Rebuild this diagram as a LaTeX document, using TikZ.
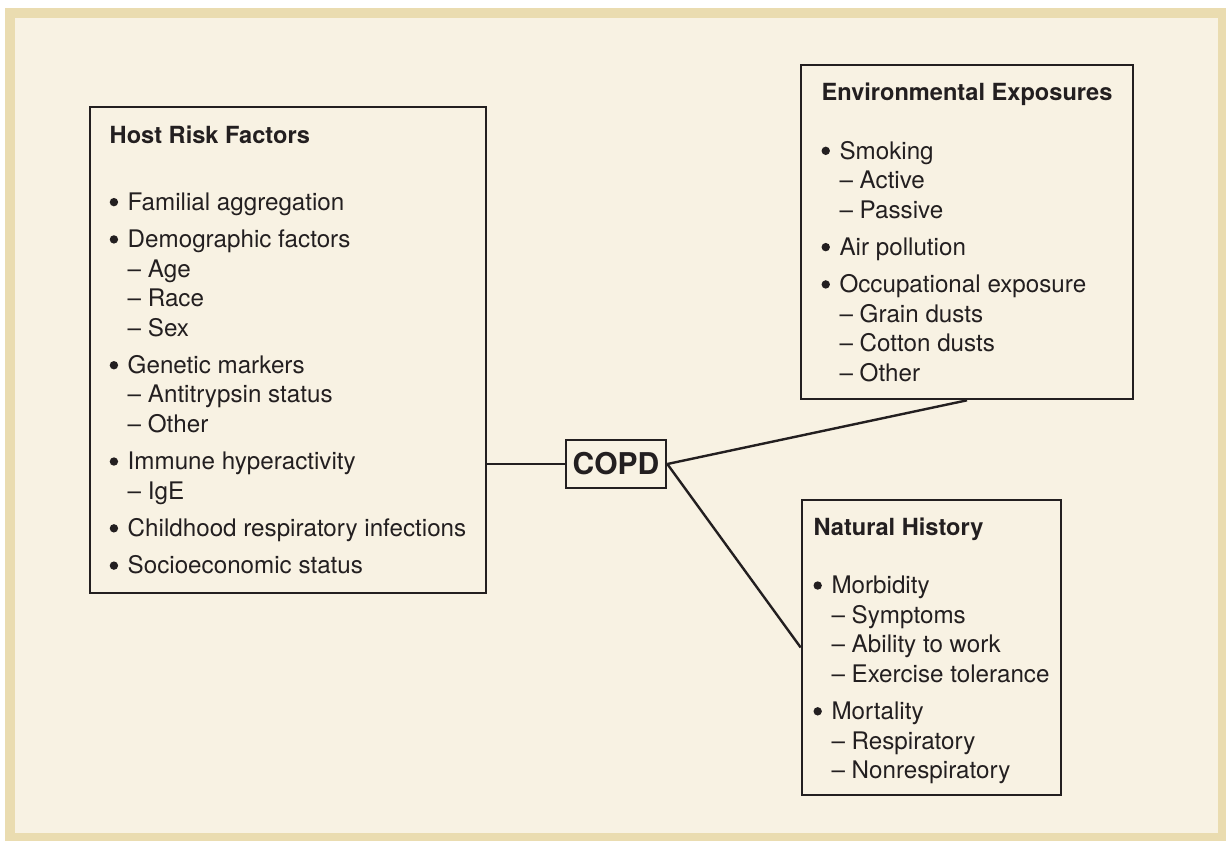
\documentclass[tikz,border=0pt]{standalone}
\usepackage{fontspec}
\setmainfont{TeX Gyre Heros}
\definecolor{copdframe}{HTML}{EADCB0}
\definecolor{copdpanel}{HTML}{F8F2E3}
\definecolor{copdink}{HTML}{231F20}
\newcommand{\risktitle}[1]{{\bfseries\fontsize{11.8}{14.75}\selectfont #1}}
\newcommand{\riskitem}[1]{\makebox[9pt][l]{\tikz[baseline=0pt]\fill[copdink] (2.1pt,4.1pt) circle[radius=2.1pt];}#1}
\newcommand{\risksub}[1]{\hspace*{9pt}\textendash\ #1}
\tikzset{
  riskbox/.style={draw=copdink, line width=1.3pt, align=left, text=copdink, inner sep=0pt, font=\fontsize{12.1}{14.75}\selectfont},
  copdbox/.style={draw=copdink, line width=1.3pt, text=copdink, inner sep=0pt, minimum width=50pt, minimum height=24pt, font=\bfseries\fontsize{15}{18}\selectfont},
  riskline/.style={draw=copdink, line width=1.2pt}
}

\begin{document}
\begin{tikzpicture}[x=0.5pt, y=-0.5pt]
  % frame
  \fill[white] (0,0) rectangle (1226,841);
  \fill[copdframe] (5,8) rectangle (1226,841);
  \fill[copdpanel] (15,18) rectangle (1218,833);

  \node[riskbox, minimum width=198pt, minimum height=243pt] (host) at (288,350) {%
    \risktitle{Host Risk Factors}\\[18.75pt]
    \riskitem{Familial aggregation}\\[3.9pt]
    \riskitem{Demographic factors}\\
    \risksub{Age}\\
    \risksub{Race}\\
    \risksub{Sex}\\[3.9pt]
    \riskitem{Genetic markers}\\
    \risksub{Antitrypsin status}\\
    \risksub{Other}\\[3.9pt]
    \riskitem{Immune hyperactivity}\\
    \risksub{IgE}\\[3.9pt]
    \riskitem{Childhood respiratory infections}\\[3.9pt]
    \riskitem{Socioeconomic status}};

  \node[riskbox, minimum width=166pt, minimum height=167pt] (env) at (967,232) {%
    \risktitle{Environmental Exposures}\\[14.75pt]
    \riskitem{Smoking}\\
    \risksub{Active}\\
    \risksub{Passive}\\[3.9pt]
    \riskitem{Air pollution}\\[3.9pt]
    \riskitem{Occupational exposure}\\
    \risksub{Grain dusts}\\
    \risksub{Cotton dusts}\\
    \risksub{Other}};

  \node[riskbox, minimum width=129.5pt, minimum height=147.5pt] (hist) at (931.5,647.5) {%
    \risktitle{Natural History}\rule{0pt}{12pt}\\[14.5pt]
    \riskitem{Morbidity}\\
    \risksub{Symptoms}\\
    \risksub{Ability to work}\\
    \risksub{Exercise tolerance}\\[3.9pt]
    \riskitem{Mortality}\\
    \risksub{Respiratory}\\
    \risksub{Nonrespiratory}};

  \node[copdbox] (copd) at (616,464) {COPD};

  \draw[riskline] (copd.west) -- (copd.west -| host.east);
  \draw[riskline] (copd.east) -- (env.south);
  \draw[riskline] (copd.east) -- (hist.west);
\end{tikzpicture}
\end{document}
